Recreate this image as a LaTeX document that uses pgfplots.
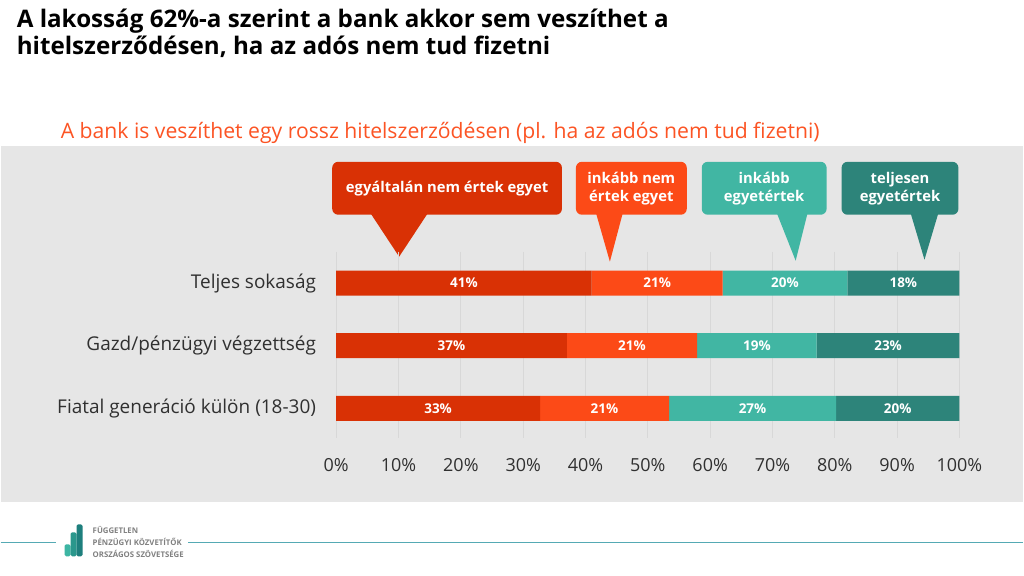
\documentclass[border=0pt]{standalone}
\usepackage{fontspec}
\setmainfont{Open Sans}
\usepackage{pgfplots}
\pgfplotsset{compat=1.18}

\definecolor{cA}{HTML}{D93105}
\definecolor{cB}{HTML}{FC4A17}
\definecolor{cC}{HTML}{41B6A3}
\definecolor{cD}{HTML}{2D847A}
\definecolor{bg}{HTML}{E6E6E6}
\definecolor{gridc}{HTML}{D8D8D8}
\definecolor{txt}{HTML}{303030}
\definecolor{sub}{HTML}{FC5424}
\definecolor{lineteal}{HTML}{55AAB4}
\definecolor{logoA}{HTML}{3DB5A3}
\definecolor{logoB}{HTML}{2A978C}
\definecolor{logoC}{HTML}{1E7F7D}
\definecolor{logotxt}{HTML}{808080}

\begin{document}
\begin{tikzpicture}
\begin{scope}[x=1pt,y=-1pt]
  % canvas and grey band
  \fill[white] (0,0) rectangle (1024,576);
  \fill[bg] (0,146) rectangle (1024,503);
  % titles
  \node[anchor=base west, inner sep=0, font=\fontsize{24.2}{28}\selectfont\bfseries] at (16,28)
    {A lakosság 62\%-a szerint a bank akkor sem veszíthet a};
  \node[anchor=base west, inner sep=0, font=\fontsize{24.2}{28}\selectfont\bfseries] at (16,55)
    {hitelszerződésen, ha az adós nem tud fizetni};
  \node[anchor=base west, inner sep=0, text=sub, font=\fontsize{21.2}{24}\selectfont] at (60,139)
    {A bank is veszíthet egy rossz hitelszerződésen (pl. ha az adós nem tud fizetni)};

  % callouts
  \fill[cA, rounded corners=6] (332,162) rectangle (562,215);
  \fill[cA] (370,213) -- (428,213) -- (399,257) -- cycle;
  \node[text=white, font=\fontsize{14.8}{18}\selectfont\bfseries] at (447,189) {egyáltalán nem értek egyet};

  \fill[cB, rounded corners=6] (576,162) rectangle (687,215);
  \fill[cB] (596,213) -- (623,213) -- (610,262) -- cycle;
  \node[text=white, align=center, font=\fontsize{14.8}{18}\selectfont\bfseries] at (631.5,188.5) {inkább nem\\értek egyet};

  \fill[cC, rounded corners=6] (702,162) rectangle (827,215);
  \fill[cC] (777,213) -- (808,213) -- (796,261) -- cycle;
  \node[text=white, align=center, font=\fontsize{14.8}{18}\selectfont\bfseries] at (764.5,188.5) {inkább\\egyetértek};

  \fill[cD, rounded corners=6] (842,162) rectangle (959,215);
  \fill[cD] (911,213) -- (939,213) -- (925,260) -- cycle;
  \node[text=white, align=center, font=\fontsize{14.8}{18}\selectfont\bfseries] at (900.5,188.5) {teljesen\\egyetértek};

  % footer
  \draw[lineteal, line width=1.3] (0,543) -- (55,543);
  \draw[lineteal, line width=1.3] (188,543) -- (1024,543);
  \fill[logoA, rounded corners=1.5] (64,545) rectangle (70,557);
  \fill[logoB, rounded corners=1.5] (70,533) rectangle (76,557);
  \fill[logoC, rounded corners=1.5] (76,525) rectangle (82,557);
  \node[anchor=west, inner sep=0, text=logotxt, font=\fontsize{7.8}{9}\selectfont\bfseries] at (92,531) {FÜGGETLEN};
  \node[anchor=west, inner sep=0, text=logotxt, font=\fontsize{7.8}{9}\selectfont\bfseries] at (92,543) {PÉNZÜGYI KÖZVETÍTŐK};
  \node[anchor=west, inner sep=0, text=logotxt, font=\fontsize{7.8}{9}\selectfont\bfseries] at (92,555) {ORSZÁGOS SZÖVETSÉGE};
\end{scope}

\begin{axis}[
  at={(336pt,-439pt)}, anchor=south west,
  scale only axis, width=624pt, height=187pt,
  xbar stacked, bar width=25pt,
  xmin=0, xmax=100, ymin=-0.5, ymax=2.48, y dir=reverse,
  axis line style={draw=none}, major tick style={draw=none},
  xmajorgrids, grid style={gridc, line width=1pt},
  /pgf/number format/assume math mode=true,
  xtick={0,10,...,100},
  xticklabel={\pgfmathprintnumber{\tick}\%},
  xticklabel style={text=txt, font=\fontsize{18}{20}\selectfont, yshift=-17pt},
  ytick={0,1,2},
  yticklabels={Teljes sokaság, Gazd/pénzügyi végzettség, Fiatal generáció külön (18-30)},
  yticklabel style={text=txt, font=\fontsize{19}{22}\selectfont, xshift=-16.7pt},
  point meta=explicit symbolic,
  nodes near coords,
  every node near coord/.append style={anchor=center, text=white,
    font=\fontsize{13.5}{16}\selectfont\bfseries},
]
\addplot[fill=cA, draw=none] coordinates {(41,0) [41\%] (37,1) [37\%] (32.7,2) [33\%]};
\addplot[fill=cB, draw=none] coordinates {(21,0) [21\%] (20.9,1) [21\%] (20.7,2) [21\%]};
\addplot[fill=cC, draw=none] coordinates {(20,0) [20\%] (19.2,1) [19\%] (26.8,2) [27\%]};
\addplot[fill=cD, draw=none] coordinates {(18,0) [18\%] (22.9,1) [23\%] (19.8,2) [20\%]};
\end{axis}
\end{tikzpicture}
\end{document}
